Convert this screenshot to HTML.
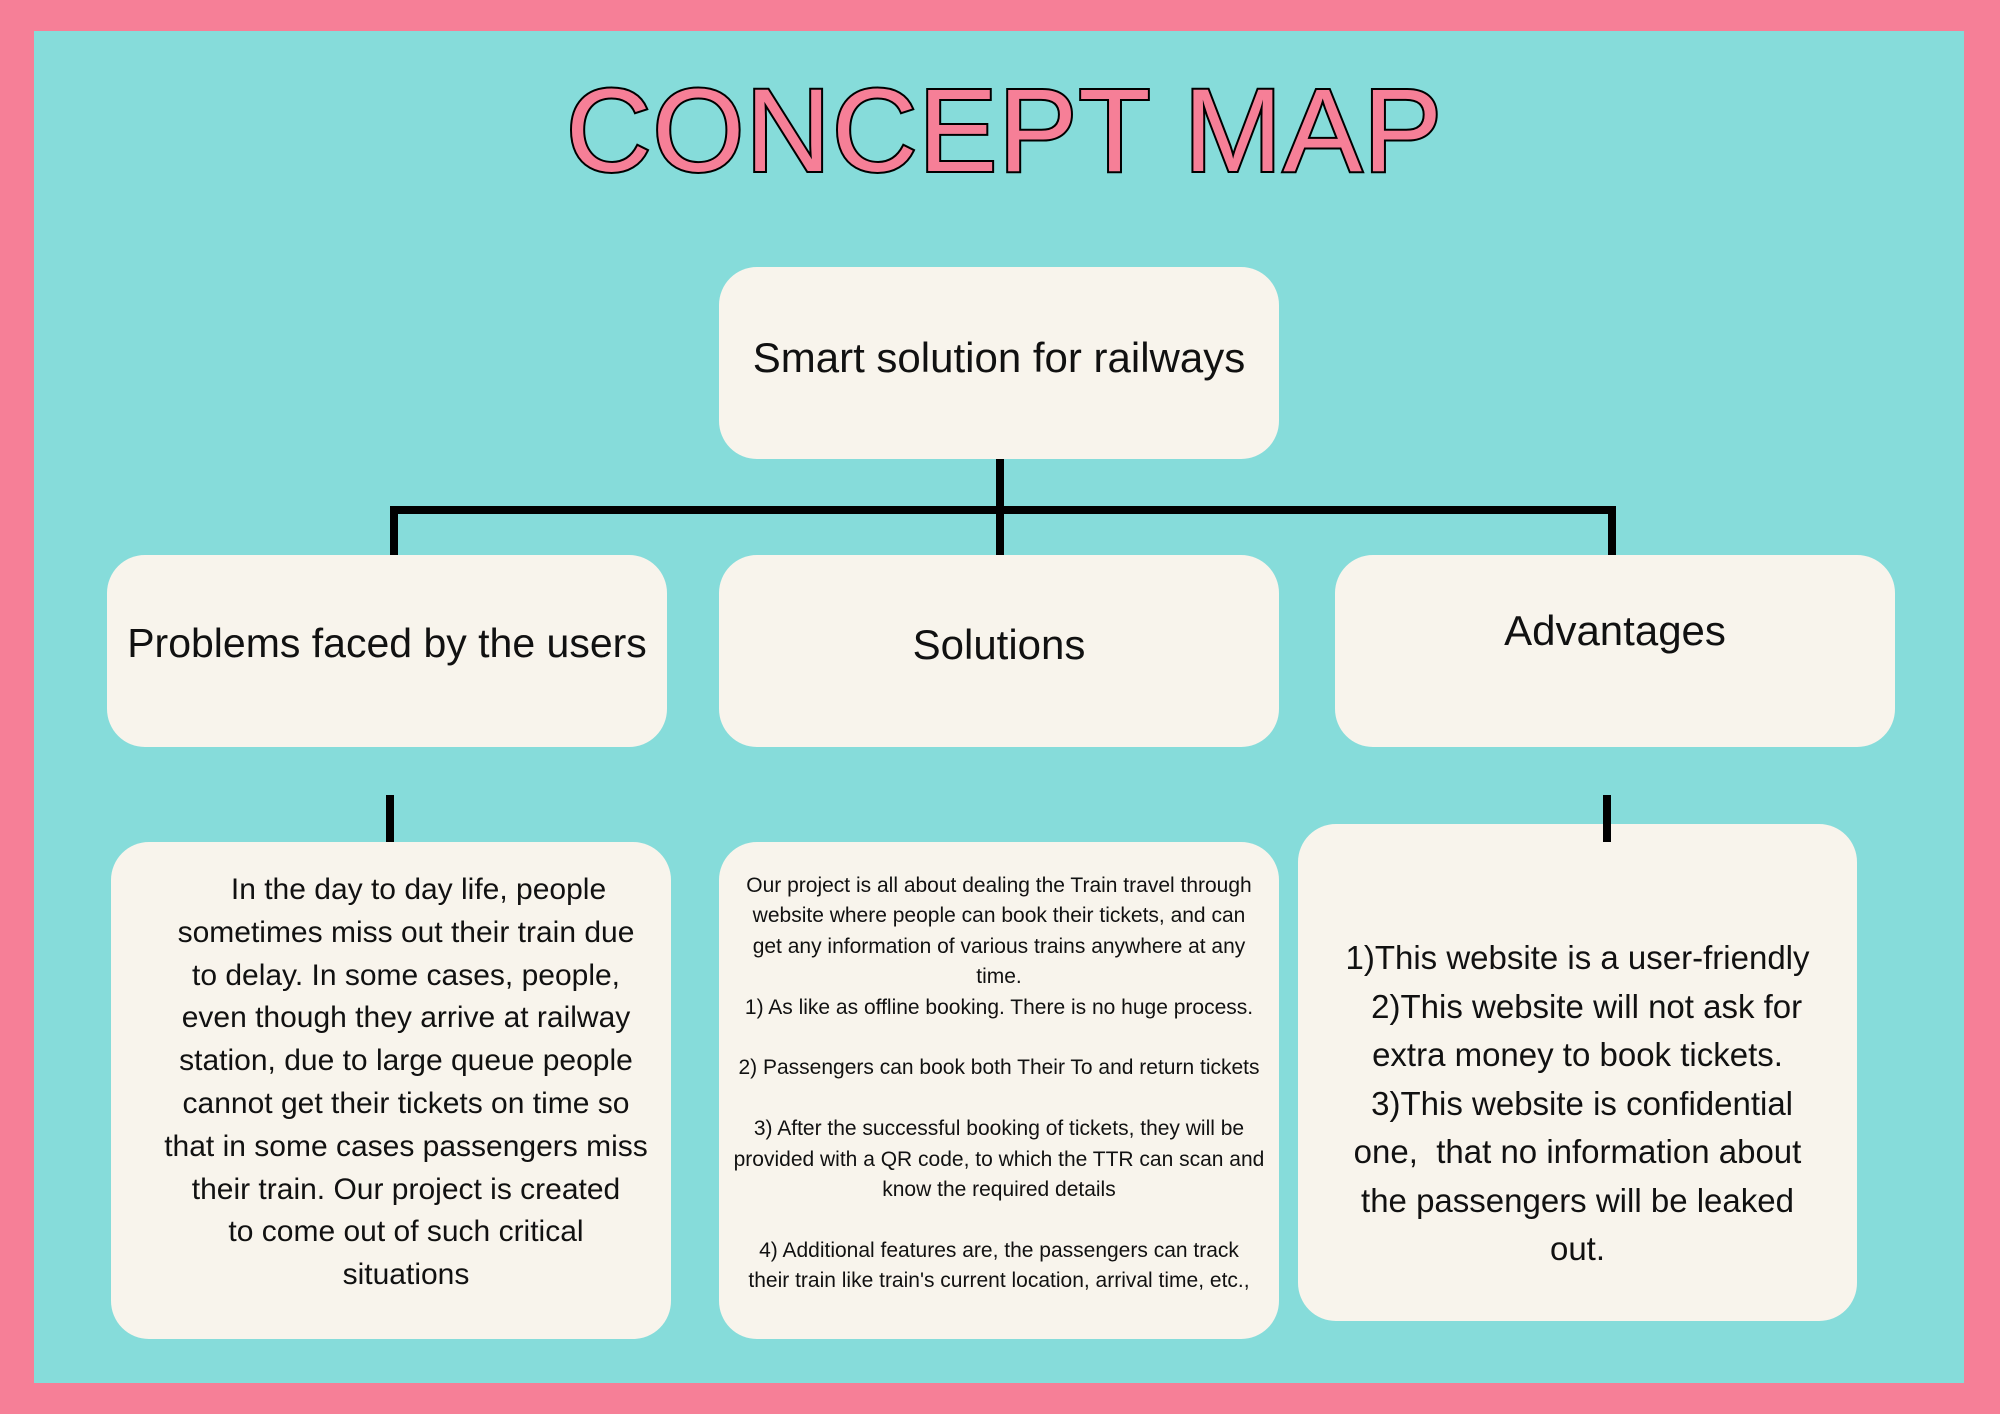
<!DOCTYPE html>
<html><head><meta charset="utf-8"><style>
*{margin:0;padding:0;box-sizing:border-box}
body{width:2000px;height:1414px;background:#f67f97;position:relative;overflow:hidden;font-family:"Liberation Sans",sans-serif;color:#111}
.bg{position:absolute;left:34px;top:31px;width:1930px;height:1352px;background:#86dcda}
.box{position:absolute;background:#f8f4ec;border-radius:38px}
.ln{position:absolute;background:#000}
.t{position:absolute;text-align:center;white-space:nowrap}
</style></head><body>
<div class="bg"></div>
<svg style="position:absolute;left:0;top:0" width="2000" height="200">
<text x="1004" y="171" text-anchor="middle" font-family="Liberation Sans, sans-serif" font-size="118" fill="#f67f97" stroke="#000" stroke-width="4" paint-order="stroke" textLength="876" lengthAdjust="spacing">CONCEPT MAP</text>
</svg>
<div class="box" style="left:719px;top:267px;width:560px;height:192px"></div>
<div class="box" style="left:107px;top:555px;width:560px;height:192px"></div>
<div class="box" style="left:719px;top:555px;width:560px;height:192px"></div>
<div class="box" style="left:1335px;top:555px;width:560px;height:192px"></div>
<div class="box" style="left:111px;top:842px;width:560px;height:497px"></div>
<div class="box" style="left:719px;top:842px;width:560px;height:497px"></div>
<div class="box" style="left:1298px;top:824px;width:559px;height:497px"></div>

<div class="ln" style="left:996px;top:459px;width:8px;height:96px"></div>
<div class="ln" style="left:390px;top:506px;width:1226px;height:8px"></div>
<div class="ln" style="left:390px;top:506px;width:8px;height:49px"></div>
<div class="ln" style="left:1608px;top:506px;width:8px;height:49px"></div>
<div class="ln" style="left:386px;top:795px;width:8px;height:47px"></div>
<div class="ln" style="left:1603px;top:795px;width:8px;height:47px"></div>

<div class="t" style="left:719px;width:560px;top:333px;font-size:42px;line-height:50px">Smart solution for railways</div>
<div class="t" style="left:107px;width:560px;top:618px;font-size:41px;line-height:50px">Problems faced by the users</div>
<div class="t" style="left:719px;width:560px;top:620px;font-size:42px;line-height:50px">Solutions</div>
<div class="t" style="left:1335px;width:560px;top:606px;font-size:42px;line-height:50px">Advantages</div>

<div class="t" style="left:116px;width:580px;top:869px;font-size:30px;line-height:42.8px">&nbsp;&nbsp;&nbsp;In the day to day life, people<br>sometimes miss out their train due<br>to delay. In some cases, people,<br>even though they arrive at railway<br>station, due to large queue people<br>cannot get their tickets on time so<br>that in some cases passengers miss<br>their train. Our project is created<br>to come out of such critical<br>situations</div>

<div class="t" style="left:719px;width:560px;top:871px;font-size:21px;line-height:30.4px">Our project is all about dealing the Train travel through<br>website where people can book their tickets, and can<br>get any information of various trains anywhere at any<br>time.<br>1) As like as offline booking. There is no huge process.<br><br>2) Passengers can book both Their To and return tickets<br><br>3) After the successful booking of tickets, they will be<br>provided with a QR code, to which the TTR can scan and<br>know the required details<br><br>4) Additional features are, the passengers can track<br>their train like train's current location, arrival time, etc.,</div>

<div class="t" style="left:1298px;width:559px;top:934px;font-size:33px;line-height:48.5px">1)This website is a user-friendly<br>&nbsp;&nbsp;2)This website will not ask for<br>extra money to book tickets.<br>&nbsp;3)This website is confidential<br>one,&nbsp; that no information about<br>the passengers will be leaked<br>out.</div>
</body></html>
